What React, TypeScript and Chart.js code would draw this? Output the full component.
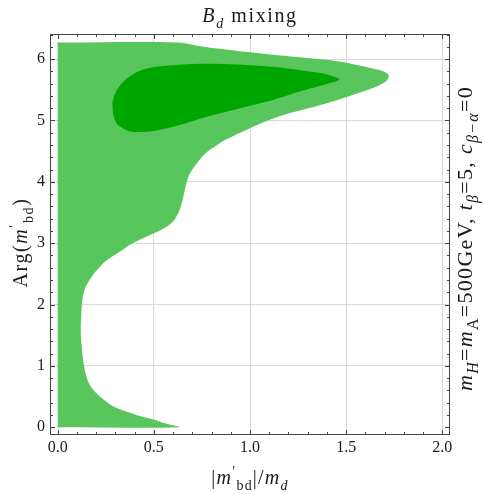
import React, { useEffect, useRef } from 'react';
import { Chart, registerables } from 'chart.js';

Chart.register(...registerables);

// ---- data ----
const xTickValues = [0, 0.5, 1.0, 1.5, 2.0];
const yTickValues = [0, 1, 2, 3, 4, 5, 6];

// outer (light green) region boundary, |m'_bd|/m_d vs Arg(m'_bd)
const outerX = [0, 0, 0.02, 0.63, 0.56, 0.506, 0.44, 0.385, 0.29, 0.22, 0.173, 0.15, 0.137, 0.125, 0.12, 0.123, 0.127, 0.14, 0.165, 0.203, 0.255, 0.333, 0.385, 0.463, 0.54, 0.596, 0.627, 0.645, 0.657, 0.67, 0.688, 0.723, 0.77, 0.83, 0.87, 0.983, 1.087, 1.208, 1.33, 1.45, 1.537, 1.615, 1.676, 1.714, 1.72, 1.693, 1.633, 1.52, 1.40, 1.225, 1.035, 0.861, 0.74, 0.627, 0.02, 0, 0];
const outerY = [0.05, 0, 0, 0, 0.06, 0.12, 0.17, 0.23, 0.34, 0.50, 0.66, 0.82, 1.0, 1.31, 1.59, 1.86, 2.05, 2.24, 2.40, 2.56, 2.72, 2.88, 2.99, 3.11, 3.22, 3.34, 3.49, 3.65, 3.81, 3.99, 4.14, 4.30, 4.47, 4.60, 4.68, 4.85, 4.99, 5.12, 5.22, 5.33, 5.42, 5.50, 5.58, 5.66, 5.74, 5.80, 5.85, 5.93, 5.99, 6.04, 6.10, 6.16, 6.21, 6.27, 6.27, 6.27, 6.22];

// inner (dark green) region boundary
const innerX = [0.285, 0.29, 0.307, 0.34, 0.376, 0.43, 0.48, 0.55, 0.65, 0.775, 0.948, 1.104, 1.26, 1.416, 1.45, 1.465, 1.45, 1.40, 1.35, 1.26, 1.13, 1.0, 0.86, 0.70, 0.60, 0.50, 0.428, 0.38, 0.341, 0.30, 0.285];
const innerY = [5.22, 5.08, 4.95, 4.87, 4.82, 4.81, 4.82, 4.86, 4.94, 5.06, 5.20, 5.32, 5.47, 5.61, 5.64, 5.67, 5.70, 5.75, 5.78, 5.82, 5.87, 5.90, 5.92, 5.92, 5.90, 5.87, 5.81, 5.73, 5.63, 5.45, 5.30];

const X_MIN = -0.04;
const X_MAX = 2.04;
const Y_MIN = -0.126;
const Y_MAX = 6.409;

const SERIF = '"Liberation Serif", "Times New Roman", serif';

type Seg = { t: string; it?: boolean; sub?: boolean; sup?: boolean };

function drawRich(ctx: CanvasRenderingContext2D, segs: Seg[], x: number, y: number, size: number, rot: number, spacing = 0) {
  const fontFor = (s: Seg) => `${s.it ? 'italic ' : ''}${s.sub || s.sup ? Math.round(size * 0.72) : size}px ${SERIF}`;
  ctx.save();
  (ctx as any).letterSpacing = spacing + 'px';
  const widths = segs.map((s) => {
    ctx.font = fontFor(s);
    return ctx.measureText(s.t).width;
  });
  const total = widths.reduce((a, b) => a + b, 0);
  ctx.translate(x, y);
  ctx.rotate(rot);
  ctx.textBaseline = 'alphabetic';
  ctx.textAlign = 'left';
  ctx.fillStyle = '#1a1a1a';
  let cx = -total / 2;
  segs.forEach((s, i) => {
    ctx.font = fontFor(s);
    const dy = s.sub ? size * 0.28 : s.sup ? -size * 0.42 : 0;
    ctx.fillText(s.t, cx, dy);
    cx += widths[i];
  });
  ctx.restore();
}

const decorPlugin = {
  id: 'decor',
  afterDraw(chart: any) {
    const { ctx, chartArea: a, scales } = chart;
    const xs = scales.x;
    const ys = scales.y;
    ctx.save();
    ctx.strokeStyle = '#444';
    ctx.lineWidth = 1;
    const seg = (x1: number, y1: number, x2: number, y2: number) => {
      ctx.beginPath();
      ctx.moveTo(x1, y1);
      ctx.lineTo(x2, y2);
      ctx.stroke();
    };
    for (let i = 0; i <= 20; i++) {
      const v = i / 10;
      if (v < X_MIN || v > X_MAX) continue;
      const px = Math.round(xs.getPixelForValue(v)) + 0.5;
      const len = i % 5 === 0 ? 5 : 3;
      seg(px, a.bottom, px, a.bottom - len);
      seg(px, a.top, px, a.top + len);
    }
    for (let i = 0; i <= 32; i++) {
      const v = i * 0.2;
      if (v < Y_MIN || v > Y_MAX) continue;
      const py = Math.round(ys.getPixelForValue(v)) + 0.5;
      const len = i % 5 === 0 ? 5 : 3;
      seg(a.left, py, a.left + len, py);
      seg(a.right, py, a.right - len, py);
    }
    ctx.strokeRect(a.left + 0.5, a.top + 0.5, a.right - a.left - 1, a.bottom - a.top - 1);
    ctx.restore();

    const cxp = (a.left + a.right) / 2;
    const cyp = (a.top + a.bottom) / 2;
    // title
    drawRich(ctx, [{ t: 'B', it: true }, { t: 'd', it: true, sub: true }, { t: ' mixing' }], cxp, 22, 20, 0, 1.6);
    // x label
    drawRich(ctx, [{ t: '|' }, { t: 'm', it: true }, { t: '\u2032', sup: true }, { t: 'bd', sub: true }, { t: '|/' }, { t: 'm', it: true }, { t: 'd', it: true, sub: true }], cxp, 484, 20, 0, 1.2);
    // y label
    drawRich(ctx, [{ t: 'Arg(' }, { t: 'm', it: true }, { t: '\u2032', sup: true }, { t: 'bd', sub: true }, { t: ')' }], 27, cyp + 8, 20, -Math.PI / 2, 1.6);
    // right label
    drawRich(
      ctx,
      [
        { t: 'm', it: true }, { t: 'H', it: true, sub: true }, { t: '=' },
        { t: 'm', it: true }, { t: 'A', sub: true }, { t: '=500GeV, ' },
        { t: 't', it: true }, { t: '\u03b2', it: true, sub: true }, { t: '=5, ' },
        { t: 'c', it: true }, { t: '\u03b2\u2212\u03b1', it: true, sub: true }, { t: '=0' },
      ],
      472, cyp + 4, 22, -Math.PI / 2, 1.3
    );
  },
};

export default function App() {
  const ref = useRef<HTMLCanvasElement | null>(null);
  useEffect(() => {
    if (!ref.current) return;
    const outer = outerX.map((x, i) => ({ x, y: outerY[i] }));
    const inner = innerX.map((x, i) => ({ x, y: innerY[i] }));
    const chart = new Chart(ref.current, {
      type: 'line',
      data: {
        datasets: [
          {
            label: 'inner',
            data: inner,
            fill: 'shape',
            backgroundColor: '#00a600',
            borderWidth: 0,
            borderColor: 'rgba(0,0,0,0)',
            pointRadius: 0,
            tension: 0.35,
          },
          {
            label: 'outer',
            data: outer,
            fill: 'shape',
            backgroundColor: '#58c65c',
            borderWidth: 0,
            borderColor: 'rgba(0,0,0,0)',
            pointRadius: 0,
            tension: 0.35,
          },
        ],
      },
      options: {
        animation: false,
        responsive: false,
        events: [],
        layout: { padding: { left: 0, right: 34, top: 34, bottom: 0 } },
        plugins: { legend: { display: false }, tooltip: { enabled: false }, title: { display: false } },
        scales: {
          x: {
            type: 'linear',
            min: X_MIN,
            max: X_MAX,
            afterFit: (s: any) => { s.height = 59; },
            afterBuildTicks: (s: any) => { s.ticks = xTickValues.map((v) => ({ value: v })); },
            border: { display: false },
            grid: {
              drawTicks: false,
              color: (c: any) => (c.tick && c.tick.value === 0 ? 'rgba(0,0,0,0)' : '#d9d9d9'),
              lineWidth: 1,
            },
            ticks: {
              padding: 3,
              color: '#1a1a1a',
              font: { family: SERIF, size: 16 },
              callback: (v: any) => Number(v).toFixed(1),
              maxRotation: 0,
            },
          },
          y: {
            type: 'linear',
            min: Y_MIN,
            max: Y_MAX,
            afterFit: (s: any) => { s.width = 50; },
            afterBuildTicks: (s: any) => { s.ticks = yTickValues.map((v) => ({ value: v })); },
            border: { display: false },
            grid: {
              drawTicks: false,
              color: (c: any) => (c.tick && c.tick.value === 0 ? 'rgba(0,0,0,0)' : '#d9d9d9'),
              lineWidth: 1,
            },
            ticks: {
              padding: 5,
              color: '#1a1a1a',
              font: { family: SERIF, size: 16 },
              callback: (v: any) => String(Math.round(Number(v))),
            },
          },
        },
      },
      plugins: [decorPlugin],
    } as any);
    return () => chart.destroy();
  }, []);
  return (
    <div style={{ position: 'fixed', left: 0, top: 0, width: 484, height: 494, background: '#fff' }}>
      <canvas ref={ref} width={484} height={494} style={{ display: 'block', width: 484, height: 494 }} />
    </div>
  );
}
